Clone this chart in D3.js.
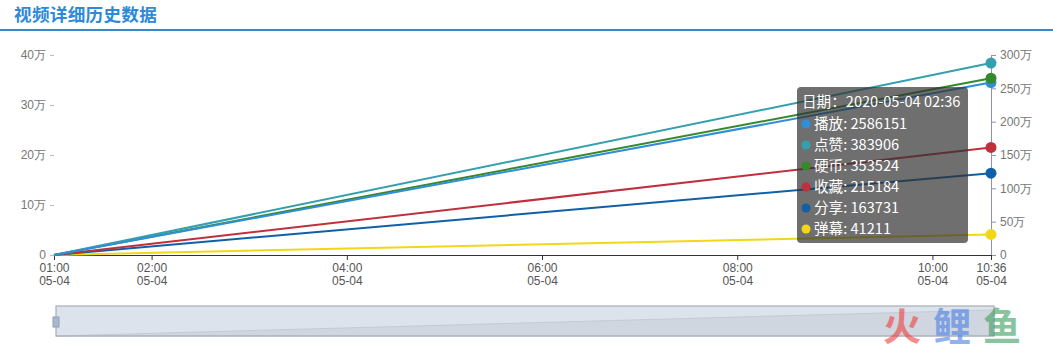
<!DOCTYPE html>
<html>
<head>
<meta charset="utf-8">
<script src="https://cdn.jsdelivr.net/npm/d3@7"></script>
<style>
  body { margin: 0; background: #fff; font-family: "Noto Sans CJK SC", "Noto Sans", sans-serif; }
  svg { display: block; }
</style>
</head>
<body>
<div id="chart"></div>
<script>
// chart data
const times = ['2020-05-04 01:00', '2020-05-04 10:36']
const seriesNames = ['播放', '点赞', '硬币', '收藏', '分享', '弹幕']
const seriesColors = ['#2f8ed8', '#35a0ad', '#35892a', '#c0303c', '#1060a8', '#f2d716']
const seriesAxis = ['right', 'left', 'left', 'left', 'left', 'left']
const playValues = [0, 2586151]
const likeValues = [0, 383906]
const coinValues = [0, 353524]
const favValues = [0, 215184]
const shareValues = [0, 163731]
const danmakuValues = [0, 41211]
const leftTicks = [0, 100000, 200000, 300000, 400000]
const rightTicks = [0, 500000, 1000000, 1500000, 2000000, 2500000, 3000000]
const xTicks = ['2020-05-04 01:00', '2020-05-04 02:00', '2020-05-04 04:00', '2020-05-04 06:00',
    '2020-05-04 08:00', '2020-05-04 10:00', '2020-05-04 10:36']
const tooltipDate = '2020-05-04 02:36'

const allValues = [playValues, likeValues, coinValues, favValues, shareValues, danmakuValues]

let fullWidth = 1053
let fullHeight = 352
let plot = { left: 54, right: 991, top: 55, bottom: 255 }

const parse = d3.timeParse('%Y-%m-%d %H:%M')

const svg = d3.select('#chart').append('svg')
    .attr('width', fullWidth).attr('height', fullHeight)

// title
svg.append('text')
    .attr('x', 14).attr('y', 20.5)
    .attr('font-size', 17.6).attr('font-weight', 'bold')
    .attr('letter-spacing', 0.3)
    .attr('fill', '#2d8ad8')
    .text('视频详细历史数据')
svg.append('rect')
    .attr('x', 0).attr('y', 29).attr('width', fullWidth).attr('height', 2)
    .attr('fill', '#3a88cc')

const x = d3.scaleTime()
    .domain(d3.extent(times, d => parse(d)))
    .range([plot.left, plot.right])
const yLeft = d3.scaleLinear().domain([0, 400000]).range([plot.bottom, plot.top])
const yRight = d3.scaleLinear().domain([0, 3000000]).range([plot.bottom, plot.top])

const wan = d => d === 0 ? '0' : (d / 10000) + '万'

// left axis
const gLeft = svg.append('g')
    .attr('transform', 'translate(' + plot.left + ',0)')
    .call(d3.axisLeft(yLeft).tickValues(leftTicks).tickFormat(wan).tickSize(4).tickPadding(4))
gLeft.select('.domain').remove()
gLeft.selectAll('line').attr('stroke', '#bbb')
gLeft.selectAll('text').attr('fill', '#777').attr('font-size', 12).attr('font-family', 'inherit')

// right axis
const gRight = svg.append('g')
    .attr('transform', 'translate(' + plot.right + ',0)')
    .call(d3.axisRight(yRight).tickValues(rightTicks).tickFormat(wan).tickSize(5).tickSizeOuter(0).tickPadding(4))
gRight.select('.domain').attr('stroke', '#8c90c4')
gRight.selectAll('line').attr('stroke', '#8c90c4')
gRight.selectAll('text').attr('fill', '#777').attr('font-size', 12).attr('font-family', 'inherit')

// x axis, two-line labels
const fmtTime = d3.timeFormat('%H:%M')
const fmtDay = d3.timeFormat('%m-%d')
const gX = svg.append('g')
    .attr('transform', 'translate(0,' + plot.bottom + ')')
    .call(d3.axisBottom(x).tickValues(xTicks.map(parse)).tickFormat('').tickSize(5).tickSizeOuter(0))
gX.select('.domain').attr('stroke', '#333')
gX.selectAll('line').attr('stroke', '#333')
gX.selectAll('.tick').each(function (d) {
    const t = d3.select(this).select('text')
        .attr('fill', '#555').attr('font-size', 12).attr('font-family', 'inherit')
        .attr('y', null).attr('dy', null)
    t.append('tspan').attr('x', 0).attr('y', 17).text(fmtTime(d))
    t.append('tspan').attr('x', 0).attr('y', 30).text(fmtDay(d))
})

// lines
const series = seriesNames.map((name, i) => ({
    name: name,
    color: seriesColors[i],
    y: seriesAxis[i] === 'right' ? yRight : yLeft,
    values: allValues[i].map((v, j) => ({ date: parse(times[j]), value: v }))
}))

const lines = svg.append('g').attr('class', 'lines')
series.slice().reverse().forEach(s => {
    lines.append('path')
        .datum(s.values)
        .attr('fill', 'none')
        .attr('stroke', s.color)
        .attr('stroke-width', 2)
        .attr('d', d3.line().x(d => x(d.date)).y(d => s.y(d.value)))
})

// highlighted points at the last time
series.forEach(s => {
    const last = s.values[s.values.length - 1]
    lines.append('circle')
        .attr('cx', x(last.date)).attr('cy', s.y(last.value))
        .attr('r', 5.5)
        .attr('fill', s.color)
})

// tooltip
const tip = svg.append('g').attr('transform', 'translate(797,87)')
tip.append('rect')
    .attr('width', 171).attr('height', 156).attr('rx', 4)
    .attr('fill', 'rgba(50,50,50,0.7)')
tip.append('text')
    .attr('x', 5).attr('y', 20)
    .attr('fill', '#fff').attr('font-size', 14.6)
    .text('日期：' + tooltipDate)
series.forEach((s, i) => {
    const yy = 37 + i * 21
    tip.append('circle').attr('cx', 9).attr('cy', yy).attr('r', 4.5).attr('fill', s.color)
    tip.append('text')
        .attr('x', 17).attr('y', yy + 5)
        .attr('fill', '#fff').attr('font-size', 14.6)
        .text(s.name + ': ' + allValues[i][allValues[i].length - 1])
})

// data zoom slider
const slider = { left: 56, right: 994, top: 306, bottom: 336 }
const sx = d3.scaleTime().domain(x.domain()).range([slider.left, slider.right])
const sy = d3.scaleLinear().domain([0, d3.max(playValues) * 1.15]).range([slider.bottom, slider.top])
svg.append('rect')
    .attr('x', slider.left).attr('y', slider.top)
    .attr('width', slider.right - slider.left).attr('height', slider.bottom - slider.top)
    .attr('fill', '#dce3ec')
svg.append('path')
    .datum(series[0].values)
    .attr('fill', '#cfd6df')
    .attr('stroke', '#c3cbd6')
    .attr('d', d3.area().x(d => sx(d.date)).y0(slider.bottom).y1(d => sy(d.value)))
svg.append('rect')
    .attr('x', slider.left).attr('y', slider.top)
    .attr('width', slider.right - slider.left).attr('height', slider.bottom - slider.top)
    .attr('fill', 'none').attr('stroke', '#a7adb6').attr('stroke-width', 1.2)
svg.append('rect')
    .attr('x', slider.left - 3).attr('y', 317).attr('width', 6).attr('height', 10)
    .attr('fill', '#a9b8cc').attr('stroke', '#8f9fb8')

// watermark
const wm = svg.append('g').attr('font-size', 38).attr('font-weight', 'bold').attr('opacity', 0.6)
const wmChars = ['火', '鲤', '鱼']
const wmColors = ['#f04040', '#4a7ee8', '#3aa060']
wmChars.forEach((c, i) => {
    wm.append('text').attr('x', 883 + i * 50).attr('y', 340).attr('fill', wmColors[i]).text(c)
})
</script>
</body>
</html>
